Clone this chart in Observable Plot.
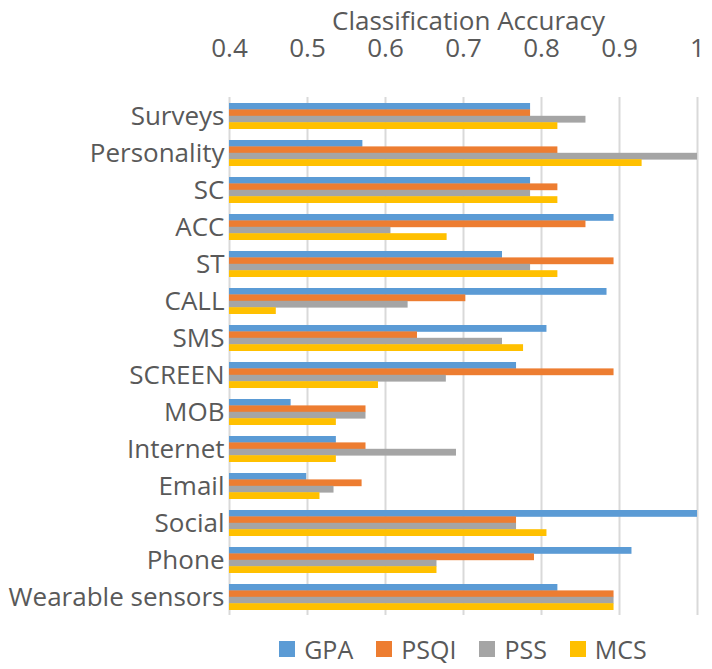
<!DOCTYPE html>
<html>
<head>
<meta charset="utf-8">
<script src="https://cdn.jsdelivr.net/npm/d3@7"></script>
<script src="https://cdn.jsdelivr.net/npm/@observablehq/plot@0.6"></script>
<style>
  html, body { margin: 0; padding: 0; background: #fff; }
  #legend { display: flex; justify-content: center; padding-left: 229px; padding-right: 15px; margin-top: 12px; }
  #legend [class$="-swatch"] { margin-right: 23px !important; }
  #legend [class$="-swatch"]:last-child { margin-right: 0 !important; }
  #legend [class$="-swatch"] > svg { margin-right: 9px !important; width: 16px; height: 16px; }
</style>
</head>
<body>
<div id="chart"></div>
<div id="legend"></div>
<script>
const categories = ["Surveys","Personality","SC","ACC","ST","CALL","SMS","SCREEN","MOB","Internet","Email","Social","Phone","Wearable sensors"];
const series = ["GPA","PSQI","PSS","MCS"];
const colors = ["#5B9BD5","#ED7D31","#A5A5A5","#FFC000"];
const GPA  = [0.786,0.571,0.786,0.893,0.750,0.884,0.807,0.768,0.479,0.537,0.499,1.000,0.916,0.821];
const PSQI = [0.786,0.821,0.821,0.857,0.893,0.703,0.641,0.893,0.575,0.575,0.570,0.768,0.791,0.893];
const PSS  = [0.857,1.000,0.786,0.607,0.786,0.629,0.750,0.678,0.575,0.691,0.534,0.768,0.666,0.893];
const MCS  = [0.821,0.929,0.821,0.679,0.821,0.460,0.777,0.591,0.537,0.537,0.516,0.807,0.666,0.893];
const xTicks = [0.4,0.5,0.6,0.7,0.8,0.9,1];
const xTitle = "Classification Accuracy";

const values = {GPA, PSQI, PSS, MCS};
const data = [];
categories.forEach((c, i) => series.forEach((s, j) => data.push({category: c, series: s, idx: j, value: values[s][i]})));

const font = "'Open Sans', sans-serif";
const textColor = "#595959";
const bandH = 25.6, n = series.length, slot = bandH / n;

const bars = series.map((s, j) => Plot.barX(data.filter(d => d.series === s), {
  x1: () => 0.4, x2: "value", y: "category", fill: colors[j],
  insetTop: j * slot, insetBottom: (n - 1 - j) * slot
}));

const chart = Plot.plot({
  width: 712,
  height: 620,
  marginTop: 97,
  marginBottom: 5,
  marginLeft: 229,
  marginRight: 15,
  style: {fontFamily: font, color: textColor, background: "#fff"},
  x: {domain: [0.4, 1]},
  y: {domain: categories, paddingInner: 0.31, paddingOuter: 0.155},
  marks: [
    Plot.ruleX(xTicks, {stroke: "#d9d9d9", strokeWidth: 2}),
    ...bars,
    Plot.axisX(xTicks, {anchor: "top", tickSize: 0, tickPadding: 41, fontSize: 26,
      tickFormat: d => d === 1 ? "1" : d.toFixed(1), label: null}),
    Plot.text([xTitle], {frameAnchor: "top", dx: 5, dy: -76, fontSize: 26, lineAnchor: "middle", fill: textColor}),
    Plot.axisY({tickSize: 0, tickPadding: 5, fontSize: 26, label: null})
  ]
});
document.getElementById("chart").append(chart);

const legend = Plot.legend({
  color: {domain: series, range: colors},
  legend: "swatches",
  swatchSize: 16,
  style: {fontFamily: font, fontSize: "25px", color: textColor}
});
document.getElementById("legend").append(legend);
</script>
</body>
</html>
